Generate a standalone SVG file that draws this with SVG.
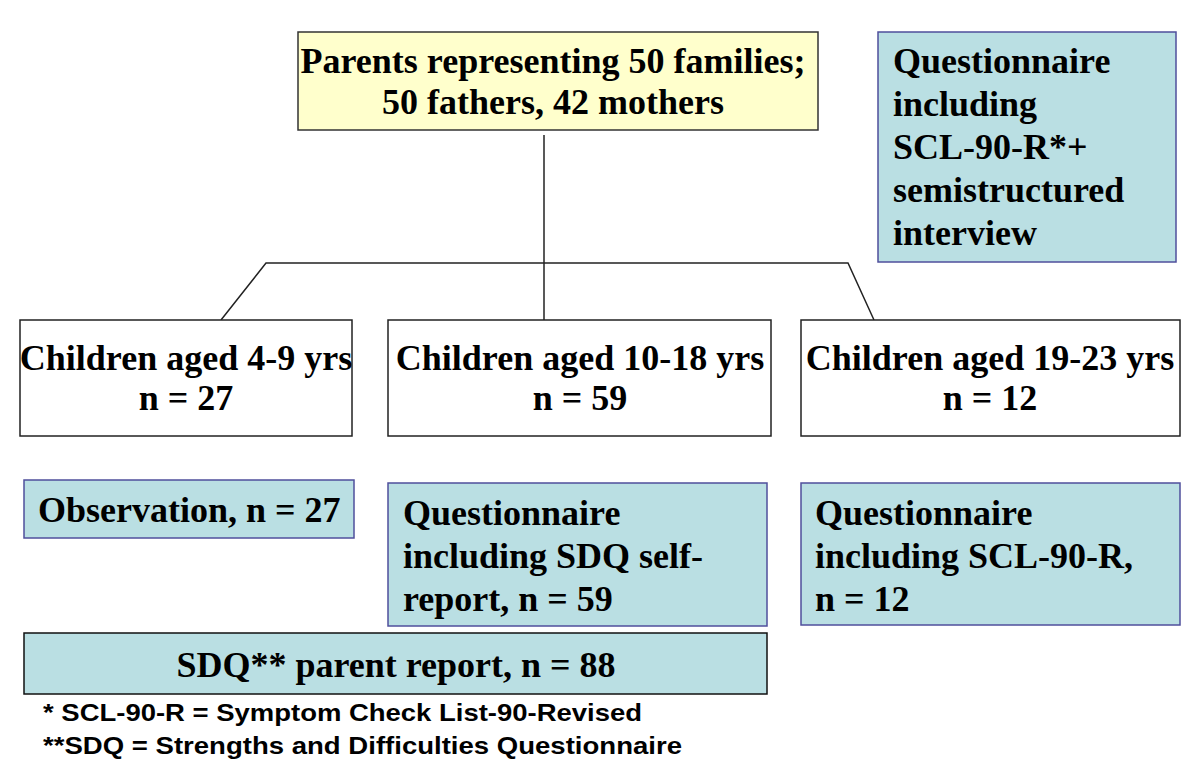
<svg xmlns="http://www.w3.org/2000/svg" width="1200" height="780" viewBox="0 0 1200 780">
<style>
.t{font-family:"Liberation Serif","Times New Roman",serif;font-weight:bold;font-size:36px;fill:#000}
.f{font-family:"Liberation Sans",Arial,sans-serif;font-weight:bold;font-size:24px;fill:#000}
.mid{text-anchor:middle}
.teal{fill:#BADFE3;stroke:#4F4F9C;stroke-width:1.5}
.white{fill:#fff;stroke:#222;stroke-width:1.5}
.conn{stroke:#222;stroke-width:1.5;fill:none}
</style>
<rect width="1200" height="780" fill="#fff"/>
<g id="connectors">
<line class="conn" x1="544" y1="135" x2="544" y2="320"/>
<polyline class="conn" points="221,320 266,263 848,263 874,320"/>
</g>
<g id="parents">
<rect x="298" y="32" width="520" height="98" fill="#FFFFCC" stroke="#333" stroke-width="1.5"/>
<text class="t mid" x="553" y="73">Parents representing 50 families;</text>
<text class="t mid" x="553" y="114">50 fathers, 42 mothers</text>
</g>
<g id="parent-questionnaire">
<rect class="teal" x="878" y="32" width="298" height="230"/>
<text class="t" x="893" y="73">Questionnaire</text>
<text class="t" x="893" y="116">including</text>
<text class="t" x="893" y="159">SCL-90-R*+</text>
<text class="t" x="893" y="202">semistructured</text>
<text class="t" x="893" y="245">interview</text>
</g>
<g id="children-4-9">
<rect class="white" x="20" y="320" width="332" height="116"/>
<text class="t mid" x="186" y="370">Children aged 4-9 yrs</text>
<text class="t mid" x="186" y="410">n = 27</text>
</g>
<g id="children-10-18">
<rect class="white" x="388" y="320" width="383" height="116"/>
<text class="t mid" x="580" y="370">Children aged 10-18 yrs</text>
<text class="t mid" x="580" y="410">n = 59</text>
</g>
<g id="children-19-23">
<rect class="white" x="801" y="320" width="379" height="116"/>
<text class="t mid" x="990" y="370">Children aged 19-23 yrs</text>
<text class="t mid" x="990" y="410">n = 12</text>
</g>
<g id="observation">
<rect class="teal" x="24" y="480" width="330" height="58"/>
<text class="t" x="38" y="522">Observation, n = 27</text>
</g>
<g id="sdq-self">
<rect class="teal" x="388" y="483" width="379" height="143"/>
<text class="t" x="403" y="525">Questionnaire</text>
<text class="t" x="403" y="568">including SDQ self-</text>
<text class="t" x="403" y="611">report, n = 59</text>
</g>
<g id="scl-child">
<rect class="teal" x="801" y="483" width="379" height="142"/>
<text class="t" x="815" y="525">Questionnaire</text>
<text class="t" x="815" y="568">including SCL-90-R,</text>
<text class="t" x="815" y="611">n = 12</text>
</g>
<g id="sdq-parent">
<rect x="24" y="633" width="743" height="61" fill="#BADFE3" stroke="#111" stroke-width="1.5"/>
<text class="t mid" x="396" y="677">SDQ** parent report, n = 88</text>
</g>
<g id="footnotes">
<text class="f" x="43" y="721" textLength="599" lengthAdjust="spacingAndGlyphs">* SCL-90-R = Symptom Check List-90-Revised</text>
<text class="f" x="43" y="754" textLength="639" lengthAdjust="spacingAndGlyphs">**SDQ = Strengths and Difficulties Questionnaire</text>
</g>
</svg>
